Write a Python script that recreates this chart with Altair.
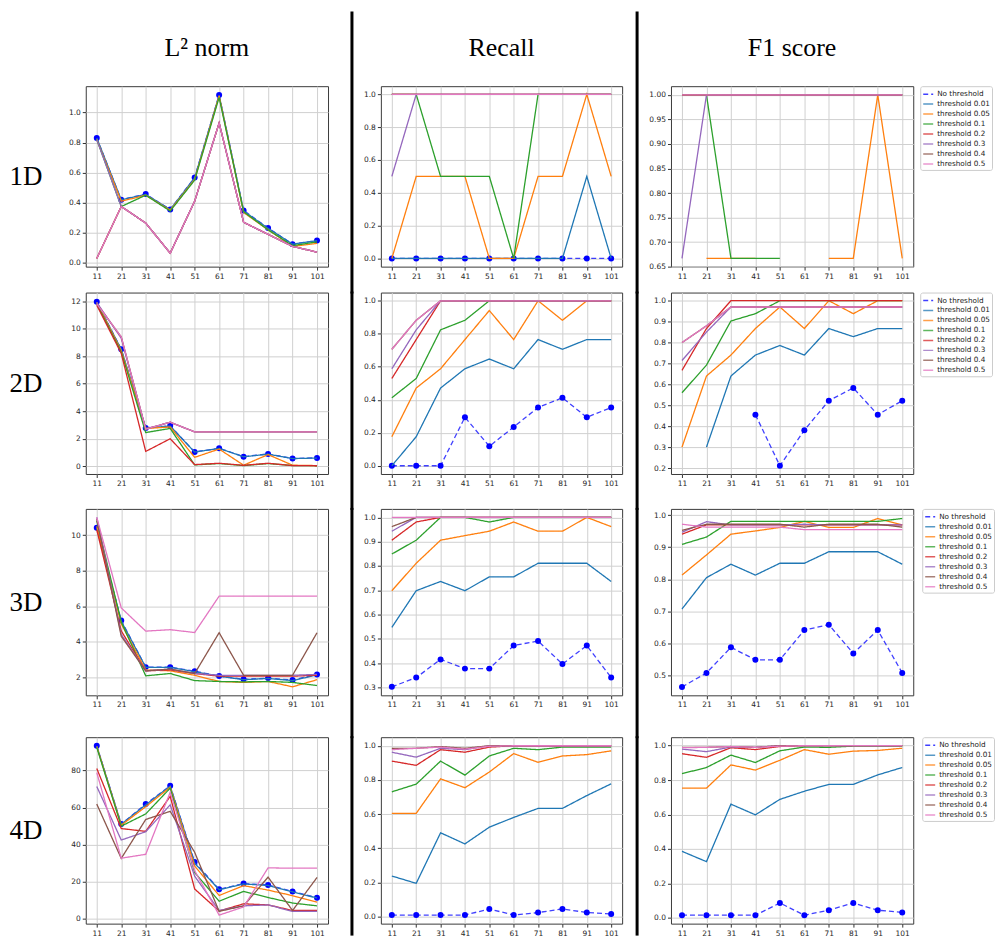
import altair as alt
import pandas as pd

X = [11, 21, 31, 41, 51, 61, 71, 81, 91, 101]
SERIES = ["No threshold", "threshold 0.01", "threshold 0.05", "threshold 0.1",
          "threshold 0.2", "threshold 0.3", "threshold 0.4", "threshold 0.5"]
COLORS = ["#0000ff", "#1f77b4", "#ff7f0e", "#2ca02c", "#d62728", "#9467bd", "#8c564b", "#e377c2"]
DASHES = [[5, 3]] + [[1, 0]] * 7
N = None

# ---------------- 1D ----------------
L2_1D = {
    "No threshold":   [0.83, 0.42, 0.458, 0.355, 0.568, 1.116, 0.349, 0.232, 0.125, 0.149],
    "threshold 0.01": [0.83, 0.42, 0.455, 0.355, 0.565, 1.115, 0.345, 0.23, 0.125, 0.148],
    "threshold 0.05": [0.82, 0.41, 0.45, 0.35, 0.555, 1.11, 0.335, 0.22, 0.11, 0.13],
    "threshold 0.1":  [0.82, 0.375, 0.45, 0.345, 0.55, 1.10, 0.34, 0.22, 0.115, 0.14],
    "threshold 0.2":  [0.03, 0.375, 0.265, 0.065, 0.41, 0.93, 0.27, 0.19, 0.11, 0.072],
    "threshold 0.3":  [0.82, 0.375, 0.265, 0.065, 0.41, 0.93, 0.27, 0.19, 0.11, 0.072],
    "threshold 0.4":  [0.03, 0.375, 0.265, 0.065, 0.41, 0.93, 0.27, 0.19, 0.11, 0.072],
    "threshold 0.5":  [0.03, 0.375, 0.265, 0.065, 0.41, 0.93, 0.27, 0.19, 0.11, 0.072],
}
RECALL_1D = {
    "No threshold":   [0, 0, 0, 0, 0, 0, 0, 0, 0, 0],
    "threshold 0.01": [0, 0, 0, 0, 0, 0, 0, 0, 0.5, 0],
    "threshold 0.05": [0, 0.5, 0.5, 0.5, 0, 0, 0.5, 0.5, 1, 0.5],
    "threshold 0.1":  [1, 1, 0.5, 0.5, 0.5, 0, 1, 1, 1, 1],
    "threshold 0.2":  [1, 1, 1, 1, 1, 1, 1, 1, 1, 1],
    "threshold 0.3":  [0.5, 1, 1, 1, 1, 1, 1, 1, 1, 1],
    "threshold 0.4":  [1, 1, 1, 1, 1, 1, 1, 1, 1, 1],
    "threshold 0.5":  [1, 1, 1, 1, 1, 1, 1, 1, 1, 1],
}
F1_1D = {
    "No threshold":   [N, N, N, N, N, N, N, N, N, N],
    "threshold 0.01": [N, N, N, N, N, N, N, N, N, N],
    "threshold 0.05": [N, 0.667, 0.667, 0.667, N, N, 0.667, 0.667, 1.0, 0.667],
    "threshold 0.1":  [1.0, 1.0, 0.667, 0.667, 0.667, N, 1.0, 1.0, 1.0, 1.0],
    "threshold 0.2":  [1.0, 1.0, 1.0, 1.0, 1.0, 1.0, 1.0, 1.0, 1.0, 1.0],
    "threshold 0.3":  [0.667, 1.0, 1.0, 1.0, 1.0, 1.0, 1.0, 1.0, 1.0, 1.0],
    "threshold 0.4":  [1.0, 1.0, 1.0, 1.0, 1.0, 1.0, 1.0, 1.0, 1.0, 1.0],
    "threshold 0.5":  [1.0, 1.0, 1.0, 1.0, 1.0, 1.0, 1.0, 1.0, 1.0, 1.0],
}

# ---------------- 2D ----------------
L2_2D = {
    "No threshold":   [11.95, 8.5, 2.79, 2.94, 1.04, 1.31, 0.70, 0.90, 0.57, 0.61],
    "threshold 0.01": [11.9, 8.5, 2.78, 2.92, 1.03, 1.30, 0.69, 0.88, 0.56, 0.60],
    "threshold 0.05": [11.9, 8.4, 2.75, 2.85, 0.65, 1.25, 0.08, 0.85, 0.08, 0.05],
    "threshold 0.1":  [11.8, 8.3, 2.45, 2.75, 0.10, 0.20, 0.05, 0.20, 0.05, 0.04],
    "threshold 0.2":  [11.7, 8.2, 1.08, 2.0, 0.12, 0.22, 0.07, 0.22, 0.05, 0.04],
    "threshold 0.3":  [11.9, 9.3, 2.7, 3.2, 2.5, 2.5, 2.5, 2.5, 2.5, 2.5],
    "threshold 0.4":  [11.8, 9.4, 2.7, 3.2, 2.5, 2.5, 2.5, 2.5, 2.5, 2.5],
    "threshold 0.5":  [11.8, 9.4, 2.7, 3.2, 2.5, 2.5, 2.5, 2.5, 2.5, 2.5],
}
RECALL_2D = {
    "No threshold":   [0, 0, 0, 0.294, 0.118, 0.235, 0.353, 0.412, 0.294, 0.353],
    "threshold 0.01": [0, 0.176, 0.471, 0.588, 0.647, 0.588, 0.765, 0.706, 0.765, 0.765],
    "threshold 0.05": [0.176, 0.471, 0.588, 0.765, 0.941, 0.765, 1.0, 0.882, 1.0, 1.0],
    "threshold 0.1":  [0.412, 0.529, 0.824, 0.882, 1.0, 1.0, 1.0, 1.0, 1.0, 1.0],
    "threshold 0.2":  [0.529, 0.765, 1.0, 1.0, 1.0, 1.0, 1.0, 1.0, 1.0, 1.0],
    "threshold 0.3":  [0.588, 0.824, 1.0, 1.0, 1.0, 1.0, 1.0, 1.0, 1.0, 1.0],
    "threshold 0.4":  [0.706, 0.882, 1.0, 1.0, 1.0, 1.0, 1.0, 1.0, 1.0, 1.0],
    "threshold 0.5":  [0.706, 0.882, 1.0, 1.0, 1.0, 1.0, 1.0, 1.0, 1.0, 1.0],
}
F1_2D = {
    "No threshold":   [N, N, N, 0.455, 0.211, 0.381, 0.522, 0.583, 0.455, 0.522],
    "threshold 0.01": [N, 0.30, 0.64, 0.74, 0.786, 0.74, 0.867, 0.828, 0.867, 0.867],
    "threshold 0.05": [0.30, 0.64, 0.74, 0.867, 0.97, 0.867, 1.0, 0.938, 1.0, 1.0],
    "threshold 0.1":  [0.56, 0.692, 0.903, 0.938, 1.0, 1.0, 1.0, 1.0, 1.0, 1.0],
    "threshold 0.2":  [0.667, 0.867, 1.0, 1.0, 1.0, 1.0, 1.0, 1.0, 1.0, 1.0],
    "threshold 0.3":  [0.714, 0.85, 0.97, 0.97, 0.97, 0.97, 0.97, 0.97, 0.97, 0.97],
    "threshold 0.4":  [0.80, 0.88, 0.97, 0.97, 0.97, 0.97, 0.97, 0.97, 0.97, 0.97],
    "threshold 0.5":  [0.80, 0.88, 0.97, 0.97, 0.97, 0.97, 0.97, 0.97, 0.97, 0.97],
}

# ---------------- 3D ----------------
L2_3D = {
    "No threshold":   [10.42, 5.19, 2.56, 2.56, 2.33, 2.06, 1.87, 1.94, 1.83, 2.15],
    "threshold 0.01": [10.4, 5.15, 2.55, 2.55, 2.3, 2.05, 1.85, 1.92, 1.8, 2.12],
    "threshold 0.05": [10.5, 5.0, 2.4, 2.35, 2.1, 1.75, 1.7, 1.75, 1.45, 1.85],
    "threshold 0.1":  [10.8, 5.1, 2.07, 2.2, 1.8, 1.75, 1.73, 1.75, 1.7, 1.52],
    "threshold 0.2":  [10.3, 4.6, 2.35, 2.4, 2.2, 2.05, 2.05, 2.05, 2.05, 2.1],
    "threshold 0.3":  [11.0, 4.4, 2.35, 2.45, 2.2, 2.1, 2.1, 2.1, 2.1, 2.15],
    "threshold 0.4":  [10.9, 4.3, 2.35, 2.45, 2.2, 4.5, 2.1, 2.1, 2.1, 4.5],
    "threshold 0.5":  [11.0, 5.9, 4.59, 4.67, 4.51, 6.56, 6.56, 6.56, 6.56, 6.56],
}
RECALL_3D = {
    "No threshold":   [0.302, 0.340, 0.415, 0.377, 0.377, 0.472, 0.491, 0.396, 0.472, 0.340],
    "threshold 0.01": [0.547, 0.698, 0.736, 0.698, 0.755, 0.755, 0.811, 0.811, 0.811, 0.736],
    "threshold 0.05": [0.698, 0.811, 0.906, 0.925, 0.943, 0.981, 0.943, 0.943, 1.0, 0.962],
    "threshold 0.1":  [0.849, 0.906, 1.0, 1.0, 0.981, 1.0, 1.0, 1.0, 1.0, 1.0],
    "threshold 0.2":  [0.906, 0.981, 1.0, 1.0, 1.0, 1.0, 1.0, 1.0, 1.0, 1.0],
    "threshold 0.3":  [0.943, 1.0, 1.0, 1.0, 1.0, 1.0, 1.0, 1.0, 1.0, 1.0],
    "threshold 0.4":  [0.962, 1.0, 1.0, 1.0, 1.0, 1.0, 1.0, 1.0, 1.0, 1.0],
    "threshold 0.5":  [1.0, 1.0, 1.0, 1.0, 1.0, 1.0, 1.0, 1.0, 1.0, 1.0],
}
F1_3D = {
    "No threshold":   [0.463, 0.507, 0.587, 0.548, 0.548, 0.641, 0.658, 0.568, 0.641, 0.507],
    "threshold 0.01": [0.707, 0.805, 0.847, 0.813, 0.85, 0.85, 0.886, 0.886, 0.886, 0.847],
    "threshold 0.05": [0.813, 0.876, 0.941, 0.951, 0.962, 0.981, 0.962, 0.962, 0.99, 0.97],
    "threshold 0.1":  [0.909, 0.932, 0.981, 0.981, 0.981, 0.981, 0.981, 0.981, 0.981, 0.99],
    "threshold 0.2":  [0.941, 0.97, 0.97, 0.97, 0.97, 0.97, 0.97, 0.97, 0.97, 0.97],
    "threshold 0.3":  [0.947, 0.98, 0.97, 0.97, 0.97, 0.972, 0.97, 0.97, 0.97, 0.97],
    "threshold 0.4":  [0.953, 0.972, 0.972, 0.972, 0.972, 0.963, 0.972, 0.972, 0.972, 0.963],
    "threshold 0.5":  [0.972, 0.963, 0.963, 0.963, 0.963, 0.955, 0.955, 0.955, 0.955, 0.955],
}

# ---------------- 4D ----------------
L2_4D = {
    "No threshold":   [93.4, 51.1, 61.9, 71.8, 30.6, 15.9, 19.0, 18.3, 14.8, 11.4],
    "threshold 0.01": [93.2, 51.0, 61.5, 71.6, 30.0, 15.7, 18.8, 18.0, 14.6, 11.2],
    "threshold 0.05": [93.0, 50.5, 60.5, 71.0, 28.5, 12.6, 17.9, 15.5, 12.5, 9.0],
    "threshold 0.1":  [92.5, 50.0, 56.6, 70.5, 25.0, 9.5, 14.8, 11.5, 8.5, 7.0],
    "threshold 0.2":  [81.1, 48.7, 47.2, 66.1, 16.1, 4.2, 8.1, 7.5, 4.5, 4.5],
    "threshold 0.3":  [71.4, 42.5, 47.0, 61.5, 23.0, 4.5, 7.0, 7.5, 4.0, 4.0],
    "threshold 0.4":  [61.9, 32.6, 53.6, 58.0, 35.9, 4.0, 7.0, 22.5, 4.5, 22.3],
    "threshold 0.5":  [78.9, 32.7, 34.8, 68.3, 26.0, 2.0, 6.4, 27.5, 27.3, 27.3],
}
RECALL_4D = {
    "No threshold":   [0.008, 0.008, 0.008, 0.008, 0.044, 0.008, 0.023, 0.044, 0.023, 0.015],
    "threshold 0.01": [0.237, 0.194, 0.490, 0.425, 0.523, 0.580, 0.633, 0.633, 0.708, 0.777],
    "threshold 0.05": [0.604, 0.604, 0.806, 0.754, 0.846, 0.954, 0.903, 0.940, 0.948, 0.970],
    "threshold 0.1":  [0.730, 0.775, 0.910, 0.828, 0.940, 0.985, 0.977, 0.992, 0.992, 0.992],
    "threshold 0.2":  [0.910, 0.885, 0.977, 0.962, 0.992, 1.0, 1.0, 1.0, 1.0, 1.0],
    "threshold 0.3":  [0.962, 0.933, 0.985, 0.977, 1.0, 1.0, 1.0, 1.0, 1.0, 1.0],
    "threshold 0.4":  [0.984, 0.985, 0.995, 0.985, 1.0, 1.0, 1.0, 1.0, 1.0, 1.0],
    "threshold 0.5":  [0.977, 0.985, 0.992, 0.980, 0.997, 1.0, 1.0, 1.0, 1.0, 1.0],
}
F1_4D = {
    "No threshold":   [0.015, 0.015, 0.015, 0.015, 0.086, 0.015, 0.044, 0.086, 0.044, 0.031],
    "threshold 0.01": [0.386, 0.326, 0.660, 0.598, 0.688, 0.735, 0.775, 0.775, 0.830, 0.873],
    "threshold 0.05": [0.753, 0.753, 0.888, 0.858, 0.915, 0.977, 0.950, 0.968, 0.972, 0.985],
    "threshold 0.1":  [0.837, 0.873, 0.945, 0.902, 0.970, 0.992, 0.990, 0.997, 0.997, 0.997],
    "threshold 0.2":  [0.953, 0.932, 0.988, 0.977, 0.995, 1.0, 1.0, 1.0, 1.0, 1.0],
    "threshold 0.3":  [0.980, 0.965, 0.992, 0.990, 1.0, 1.0, 1.0, 1.0, 1.0, 1.0],
    "threshold 0.4":  [0.990, 0.990, 0.995, 0.990, 1.0, 1.0, 1.0, 1.0, 1.0, 1.0],
    "threshold 0.5":  [0.988, 0.990, 0.995, 0.990, 0.997, 1.0, 1.0, 1.0, 1.0, 1.0],
}

ROW_LABELS = ["1D", "2D", "3D", "4D"]
COL_TITLES = ["L² norm", "Recall", "F1 score"]

TICKS_01 = [0.0, 0.2, 0.4, 0.6, 0.8, 1.0]
PANELS = [
    [(L2_1D, [-0.0245, 1.1745], TICKS_01, ".1f"),
     (RECALL_1D, [-0.05, 1.05], TICKS_01, ".1f"),
     (F1_1D, [0.65, 1.0177], [0.65, 0.70, 0.75, 0.80, 0.85, 0.90, 0.95, 1.00], ".2f")],
    [(L2_2D, [-0.56, 12.62], [0, 2, 4, 6, 8, 10, 12], "d"),
     (RECALL_2D, [-0.05, 1.05], TICKS_01, ".1f"),
     (F1_2D, [0.1715, 1.039], [0.2, 0.3, 0.4, 0.5, 0.6, 0.7, 0.8, 0.9, 1.0], ".1f")],
    [(L2_3D, [0.97, 11.48], [2, 4, 6, 8, 10], "d"),
     (RECALL_3D, [0.267, 1.035], [0.3, 0.4, 0.5, 0.6, 0.7, 0.8, 0.9, 1.0], ".1f"),
     (F1_3D, [0.437, 1.02], [0.5, 0.6, 0.7, 0.8, 0.9, 1.0], ".1f")],
    [(L2_4D, [-2.6, 98.0], [0, 20, 40, 60, 80], "d"),
     (RECALL_4D, [-0.042, 1.05], TICKS_01, ".1f"),
     (F1_4D, [-0.034, 1.049], TICKS_01, ".1f")],
]

PANEL_W = [243, 242, 243]
ROW_H = [181, 182, 187, 187]
ROW_PITCH = [207, 217, 229, 198]
LEGEND_X = [250, 250, 252, 252]
SEP_W = [53, 49]
SEP_X = [24, 15]


def long_df(d):
    rows = []
    for k, s in enumerate(SERIES):
        for x, v in zip(X, d[s]):
            rows.append({"x": x, "series": s, "k": k, "value": v})
    return pd.DataFrame(rows)


def panel(d, ydom, yticks, yfmt, w, h, legend_x=None, row_title=None, col_title=None):
    df = long_df(d)
    base = alt.Chart(df)
    xenc = alt.X("x:Q", scale=alt.Scale(domain=[6.5, 105.5], nice=False, zero=False),
                 axis=alt.Axis(values=X, format="d", labelFlush=False, labelOverlap=False),
                 title=None)
    ax = dict(values=yticks, format=yfmt, labelFlush=False, labelOverlap=False)
    if row_title:
        ax.update(titleAngle=0, titleFont="Liberation Serif", titleFontSize=27,
                  titleFontWeight="normal", titleColor="black", titleAlign="right",
                  titleBaseline="middle", titlePadding=19, minExtent=25, maxExtent=25)
        yenc = alt.Y("value:Q", scale=alt.Scale(domain=ydom, nice=False, zero=False),
                     axis=alt.Axis(**ax), title=row_title)
    else:
        yenc = alt.Y("value:Q", scale=alt.Scale(domain=ydom, nice=False, zero=False),
                     axis=alt.Axis(**ax), title=None)
    if legend_x is not None:
        leg = alt.Legend(orient="none", legendX=legend_x, legendY=0, symbolType="stroke",
                         symbolSize=100, symbolStrokeWidth=1.5, labelFont="DejaVu Sans",
                         labelFontSize=7.3, labelColor="#222222", padding=2,
                         strokeColor="#cccccc", fillColor="white", cornerRadius=2,
                         rowPadding=0, labelOffset=3)
    else:
        leg = None
    color = alt.Color("series:N", scale=alt.Scale(domain=SERIES, range=COLORS), legend=leg, title=None)
    dash = alt.StrokeDash("series:N", scale=alt.Scale(domain=SERIES, range=DASHES), legend=leg, title=None)
    layers = []
    for k, s in enumerate(SERIES):
        sub = base.transform_filter(alt.datum.k == k)
        layers.append(sub.mark_line(strokeWidth=1.3, clip=True, opacity=0.75 if k == 0 else 1,
                                    invalid="break-paths-show-domains")
                      .encode(x=xenc, y=yenc, color=color, strokeDash=dash))
        if k == 0:
            layers.append(sub.mark_point(filled=True, size=36, opacity=1, clip=True)
                          .encode(x=xenc, y=yenc, color=alt.value("#0000ff")))
    ch = alt.layer(*layers)
    props = dict(width=w, height=h)
    if col_title:
        props["title"] = alt.TitleParams(text=col_title, font="Liberation Serif", fontSize=26,
                                         fontWeight="normal", color="black", offset=18, dy=19,
                                         baseline="bottom", anchor="middle")
    return ch.properties(**props)


def sep(w, x, h, y0, y1):
    return (alt.Chart(pd.DataFrame({"a": [0]}))
            .mark_rule(color="black", strokeWidth=3)
            .encode(x=alt.value(x), y=alt.value(y0), y2=alt.value(y1))
            .properties(width=w, height=h, view=alt.ViewBackground(stroke="transparent")))


cells = []
for r in range(4):
    pitch = ROW_PITCH[r]
    y0 = -75 if r == 0 else -1
    for c in range(3):
        d, ydom, yticks, yfmt = PANELS[r][c]
        cells.append(panel(d, ydom, yticks, yfmt, PANEL_W[c], ROW_H[r],
                           legend_x=LEGEND_X[r] if c == 2 else None,
                           row_title=ROW_LABELS[r] if c == 0 else None,
                           col_title=COL_TITLES[c] if r == 0 else None))
        if c < 2:
            cells.append(sep(SEP_W[c], SEP_X[c], pitch, y0, pitch + 1))

chart = (alt.concat(*cells, columns=5, spacing=0, align="each", bounds="flush")
         .resolve_scale(color="independent", strokeDash="independent")
         .properties(padding=0, background="white")
         .configure_view(stroke="#3a3a3a", strokeWidth=1)
         .configure_axis(gridColor="#d0d0d0", gridWidth=1, domain=False, tickColor="#333333",
                         tickSize=3.5, tickWidth=1, labelFont="DejaVu Sans", labelFontSize=7.5,
                         labelColor="#262626", labelPadding=2))

chart.save("out.html", embed_options={"renderer": "svg", "actions": False})
